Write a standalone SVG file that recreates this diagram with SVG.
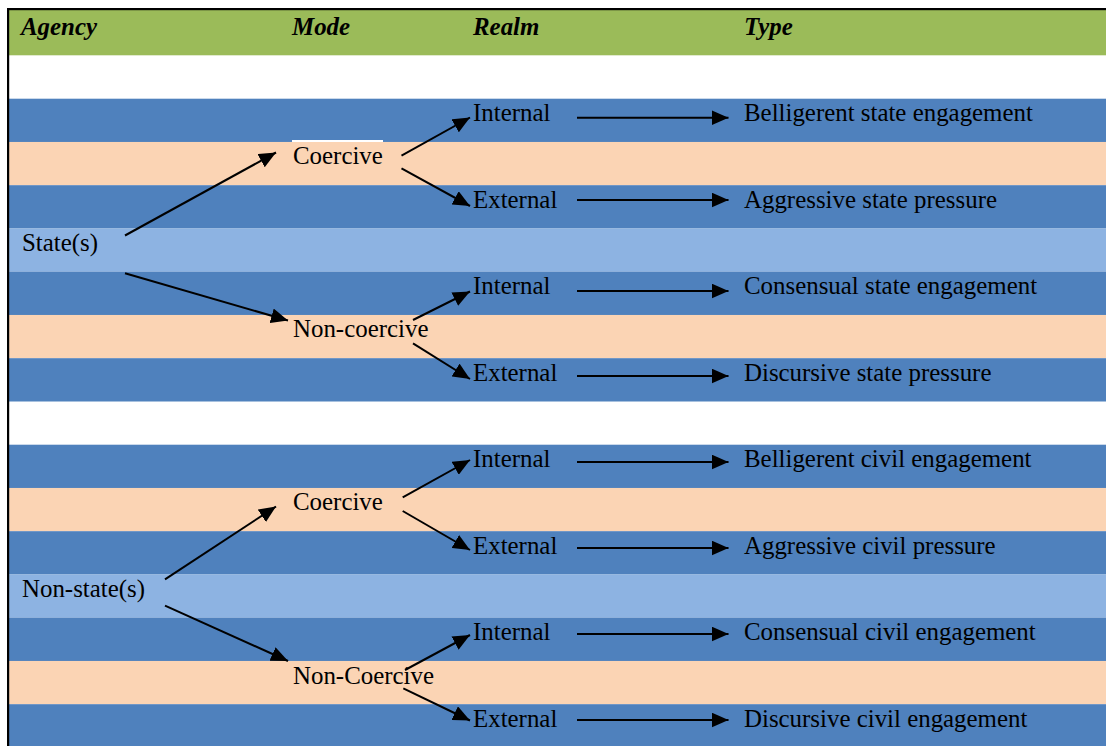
<svg xmlns="http://www.w3.org/2000/svg" width="1106" height="746" viewBox="0 0 1106 746">
<style>
text{font-family:"Liberation Serif","Times New Roman",serif;font-size:24.9px;fill:#000}
.h{font-weight:bold;font-style:italic}
.bl{fill:#4F81BD}.pe{fill:#FBD4B4}.lb{fill:#8DB3E2}.gr{fill:#9BBB59}
.c line{stroke:#000;stroke-width:2;marker-end:url(#ah)}
</style>
<defs>
<marker id="ah" markerUnits="userSpaceOnUse" markerWidth="17" markerHeight="15" refX="17" refY="7.5" orient="auto">
<path d="M0,0 L17,7.5 L0,15 Z" fill="#000"/>
</marker>
</defs>
<rect x="0" y="0" width="1106" height="746" fill="#fff"/>
<g id="bands">
<rect class="gr" x="9" y="10" width="1097" height="45.3"/>
<rect class="bl" x="9" y="98.7" width="1097" height="43.3"/>
<rect class="pe" x="9" y="141.95" width="1097" height="43.3"/>
<rect class="bl" x="9" y="185.2" width="1097" height="43.3"/>
<rect class="lb" x="9" y="228.45" width="1097" height="43.3"/>
<rect class="bl" x="9" y="271.7" width="1097" height="43.3"/>
<rect class="pe" x="9" y="314.95" width="1097" height="43.3"/>
<rect class="bl" x="9" y="358.2" width="1097" height="43.3"/>
<rect class="bl" x="9" y="444.7" width="1097" height="43.3"/>
<rect class="pe" x="9" y="487.95" width="1097" height="43.3"/>
<rect class="bl" x="9" y="531.2" width="1097" height="43.3"/>
<rect class="lb" x="9" y="574.45" width="1097" height="43.3"/>
<rect class="bl" x="9" y="617.7" width="1097" height="43.3"/>
<rect class="pe" x="9" y="660.95" width="1097" height="43.3"/>
<rect class="bl" x="9" y="704.2" width="1097" height="42"/>
<rect x="292" y="140" width="91" height="2" fill="#fff"/>
<rect x="7" y="8" width="1099" height="2.2" fill="#000"/>
<rect x="7" y="8" width="2.2" height="738" fill="#000"/>
</g>
<g id="header">
<text class="h" x="21" y="35">Agency</text>
<text class="h" x="292" y="35">Mode</text>
<text class="h" x="473" y="35">Realm</text>
<text class="h" x="744" y="35">Type</text>
</g>
<g id="state"><text x="22" y="251">State(s)</text></g>
<g id="coercive1"><text x="293" y="163.5">Coercive</text></g>
<g id="noncoercive1"><text x="293" y="337">Non-coercive</text></g>
<g id="internal1"><text x="473" y="121">Internal</text></g>
<g id="external1"><text x="473" y="208">External</text></g>
<g id="internal2"><text x="473" y="294">Internal</text></g>
<g id="external2"><text x="473" y="380.5">External</text></g>
<g id="type1"><text x="744" y="121">Belligerent state engagement</text></g>
<g id="type2"><text x="744" y="208">Aggressive state pressure</text></g>
<g id="type3"><text x="744" y="294">Consensual state engagement</text></g>
<g id="type4"><text x="744" y="380.5">Discursive state pressure</text></g>
<g id="nonstate"><text x="22" y="596.5">Non-state(s)</text></g>
<g id="coercive2"><text x="293" y="510">Coercive</text></g>
<g id="noncoercive2"><text x="293" y="683.5">Non-Coercive</text></g>
<g id="internal3"><text x="473" y="467">Internal</text></g>
<g id="external3"><text x="473" y="553.5">External</text></g>
<g id="internal4"><text x="473" y="640">Internal</text></g>
<g id="external4"><text x="473" y="726.5">External</text></g>
<g id="type5"><text x="744" y="467">Belligerent civil engagement</text></g>
<g id="type6"><text x="744" y="553.5">Aggressive civil pressure</text></g>
<g id="type7"><text x="744" y="640">Consensual civil engagement</text></g>
<g id="type8"><text x="744" y="726.5">Discursive civil engagement</text></g>
<g id="connectors" class="c">
<line x1="125" y1="235.5" x2="276" y2="152.5"/>
<line x1="125" y1="273.3" x2="288" y2="320.5"/>
<line x1="401.5" y1="155.7" x2="470" y2="117.5"/>
<line x1="401.5" y1="168.3" x2="470" y2="206"/>
<line x1="413" y1="320" x2="470" y2="291.5"/>
<line x1="413" y1="343.3" x2="470" y2="379"/>
<line x1="577" y1="117.7" x2="728.5" y2="117.7"/>
<line x1="577" y1="200" x2="728.5" y2="200"/>
<line x1="577" y1="291" x2="728.5" y2="291"/>
<line x1="577" y1="376" x2="728.5" y2="376"/>
<line x1="165" y1="579.3" x2="276" y2="506.5"/>
<line x1="165" y1="605.7" x2="288" y2="661"/>
<line x1="402.7" y1="497.3" x2="470" y2="460"/>
<line x1="402.7" y1="511" x2="470" y2="550"/>
<line x1="405" y1="670" x2="470" y2="635"/>
<line x1="403.3" y1="688.3" x2="470" y2="720.5"/>
<line x1="577" y1="462" x2="728.5" y2="462"/>
<line x1="577" y1="548" x2="728.5" y2="548"/>
<line x1="577" y1="634" x2="728.5" y2="634"/>
<line x1="577" y1="720" x2="728.5" y2="720"/>
</g>
</svg>
